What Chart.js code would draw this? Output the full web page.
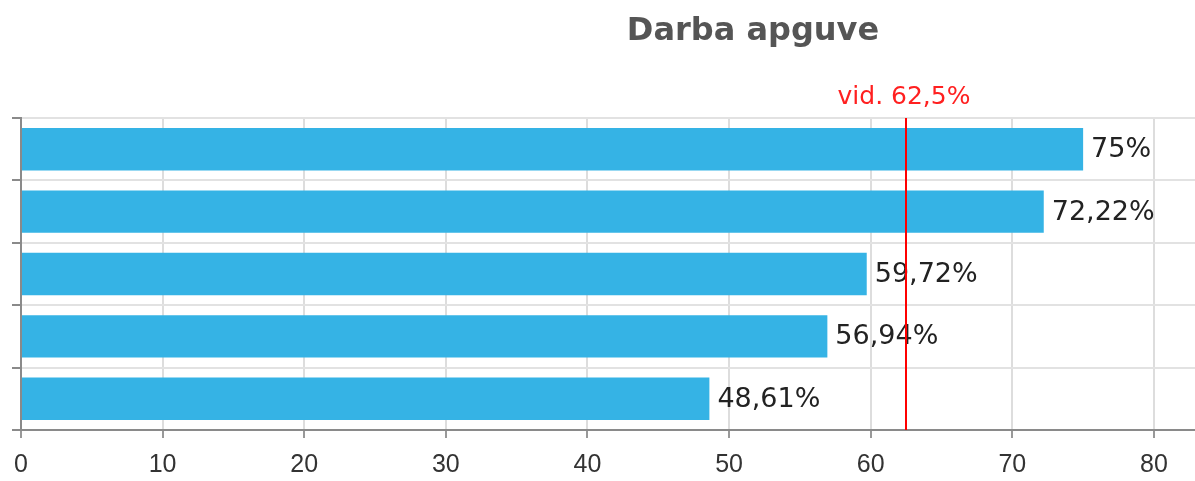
<!DOCTYPE html>
<html>
<head>
<meta charset="utf-8">
<script src="https://cdn.jsdelivr.net/npm/chart.js@4"></script>
<style>
  html, body { margin: 0; padding: 0; background: #fff; }
  #wrap { width: 1195px; height: 481px; position: relative; }
</style>
</head>
<body>
<div id="wrap"><canvas id="apguve"></canvas></div>
<script>
const chartTitle = 'Darba apguve';
const categories = ['', '', '', '', ''];
const values = [75, 72.22, 59.72, 56.94, 48.61];
const avgValue = 62.5;
const avgLabel = 'vid. ';
const xMin = 0;
const xMax = 82.9;
const xStep = 10;

// lv formāts: komats decimāldaļai
const fmt = v => String(v).replace('.', ',') + '%';

const extras = {
  id: 'extras',
  afterDatasetsDraw(chart) {
    const { ctx, chartArea, scales: { x } } = chart;
    const meta = chart.getDatasetMeta(0);

    // vērtības pie stabiņiem
    ctx.save();
    ctx.font = '27px "DejaVu Sans"';
    ctx.fillStyle = '#222';
    ctx.textAlign = 'left';
    ctx.textBaseline = 'middle';
    meta.data.forEach((bar, i) => {
      ctx.fillText(fmt(values[i]), bar.x + 8, bar.y + 1);
    });
    ctx.restore();

    // vidējā līnija
    const ax = Math.round(x.getPixelForValue(avgValue));
    ctx.save();
    ctx.strokeStyle = '#ff0000';
    ctx.lineWidth = 2;
    ctx.beginPath();
    ctx.moveTo(ax, chartArea.top);
    ctx.lineTo(ax, chartArea.bottom);
    ctx.stroke();
    ctx.font = '25px "DejaVu Sans"';
    ctx.fillStyle = '#ff2020';
    ctx.textAlign = 'center';
    ctx.textBaseline = 'middle';
    ctx.fillText(avgLabel + fmt(avgValue), ax - 2, 97);
    ctx.restore();
  },
  afterDraw(chart) {
    const { ctx } = chart;
    ctx.save();
    ctx.font = 'bold 32px "DejaVu Sans"';
    ctx.fillStyle = '#555555';
    ctx.textAlign = 'center';
    ctx.textBaseline = 'middle';
    ctx.fillText(chartTitle, 753, 32);
    ctx.restore();
  }
};

new Chart(document.getElementById('apguve'), {
  type: 'bar',
  data: {
    labels: categories,
    datasets: [{
      data: values,
      backgroundColor: '#35b3e5',
      borderWidth: 0,
      barPercentage: 0.68,
      categoryPercentage: 1
    }]
  },
  options: {
    indexAxis: 'y',
    responsive: true,
    maintainAspectRatio: false,
    animation: false,
    layout: {
      padding: { top: 118, left: 12, right: 0, bottom: -11 }
    },
    plugins: {
      legend: { display: false },
      title: { display: false },
      tooltip: { enabled: false }
    },
    scales: {
      x: {
        min: xMin,
        max: xMax,
        ticks: {
          stepSize: xStep,
          includeBounds: false,
          padding: 12,
          color: '#333',
          font: { family: '"Liberation Sans", Arial', size: 25 }
        },
        grid: {
          color: '#dddddd',
          lineWidth: 2,
          tickColor: '#999999',
          tickLength: 8
        },
        border: { color: '#8a8a8a', width: 2 }
      },
      y: {
        offset: true,
        ticks: { display: false },
        grid: {
          offset: true,
          color: '#e2e2e2',
          lineWidth: 2,
          tickColor: '#8a8a8a',
          tickLength: 9
        },
        border: { color: '#8a8a8a', width: 2 }
      }
    }
  },
  plugins: [extras]
});
</script>
</body>
</html>
